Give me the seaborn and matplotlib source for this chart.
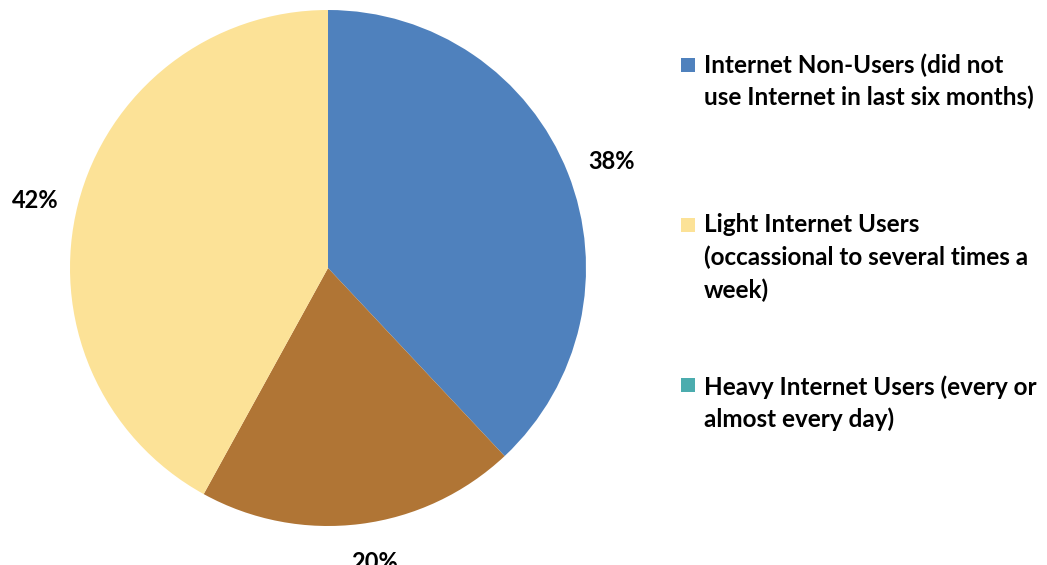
import matplotlib
matplotlib.use("Agg")
import numpy as np
import matplotlib.pyplot as plt
from matplotlib.patches import Rectangle
import seaborn as sns

# Share of respondents by internet usage
categories = [
    "Internet Non-Users (did not\nuse Internet in last six months)",
    "Light Internet Users\n(occassional to several times a\nweek)",
    "Heavy Internet Users (every or\nalmost every day)",
]
values = [38, 20, 42]
slice_colors = ["#4F81BD", "#B07535", "#FCE297"]
legend_colors = ["#4F81BD", "#FCE297", "#4BACAE"]

sns.set_theme(style="white")
plt.rcParams["font.family"] = ["Lato", "DejaVu Sans"]

W, H = 1047, 565
fig = plt.figure(figsize=(W / 100, H / 100), dpi=100)
fig.patch.set_facecolor("white")

cx, cy, r = 328, 268, 258
ax = fig.add_axes([(cx - r) / W, (H - cy - r) / H, 2 * r / W, 2 * r / H])
wedges, _, autotexts = ax.pie(
    values,
    colors=slice_colors,
    startangle=90,
    counterclock=False,
    radius=1,
    autopct=lambda p: f"{p:.0f}%",
    pctdistance=1.16,
    wedgeprops=dict(linewidth=0),
    textprops=dict(fontsize=17, fontweight="bold", color="#000000"),
)
# Value labels sit just outside each wedge
label_dist = [1.18, 1.13, 1.18]
label_shift = [(0.0, -0.022), (0.04, -0.022), (0.01, -0.03)]
for w, t, d, (dx, dy) in zip(wedges, autotexts, label_dist, label_shift):
    ang = np.deg2rad((w.theta1 + w.theta2) / 2)
    t.set_position((d * np.cos(ang) + dx, d * np.sin(ang) + dy))
ax.set_xlim(-1, 1)
ax.set_ylim(-1, 1)
ax.set_aspect("equal")
ax.axis("off")

# Legend entries: square marker plus wrapped label lines
first_line_y = [65, 225, 387]
marker_top = [58, 218, 378]
line_pitch = 32.5
for label, color, y0, mt in zip(categories, legend_colors, first_line_y, marker_top):
    fig.patches.append(
        Rectangle((681 / W, 1 - (mt + 14) / H), 14 / W, 14 / H,
                  transform=fig.transFigure, facecolor=color, edgecolor="none")
    )
    for i, line in enumerate(label.split("\n")):
        fig.text(704 / W, 1 - (y0 + i * line_pitch) / H, line,
                 ha="left", va="center", fontsize=17.5, fontweight="bold",
                 color="#000000")

fig.savefig("out.png", dpi=100, facecolor="white")
